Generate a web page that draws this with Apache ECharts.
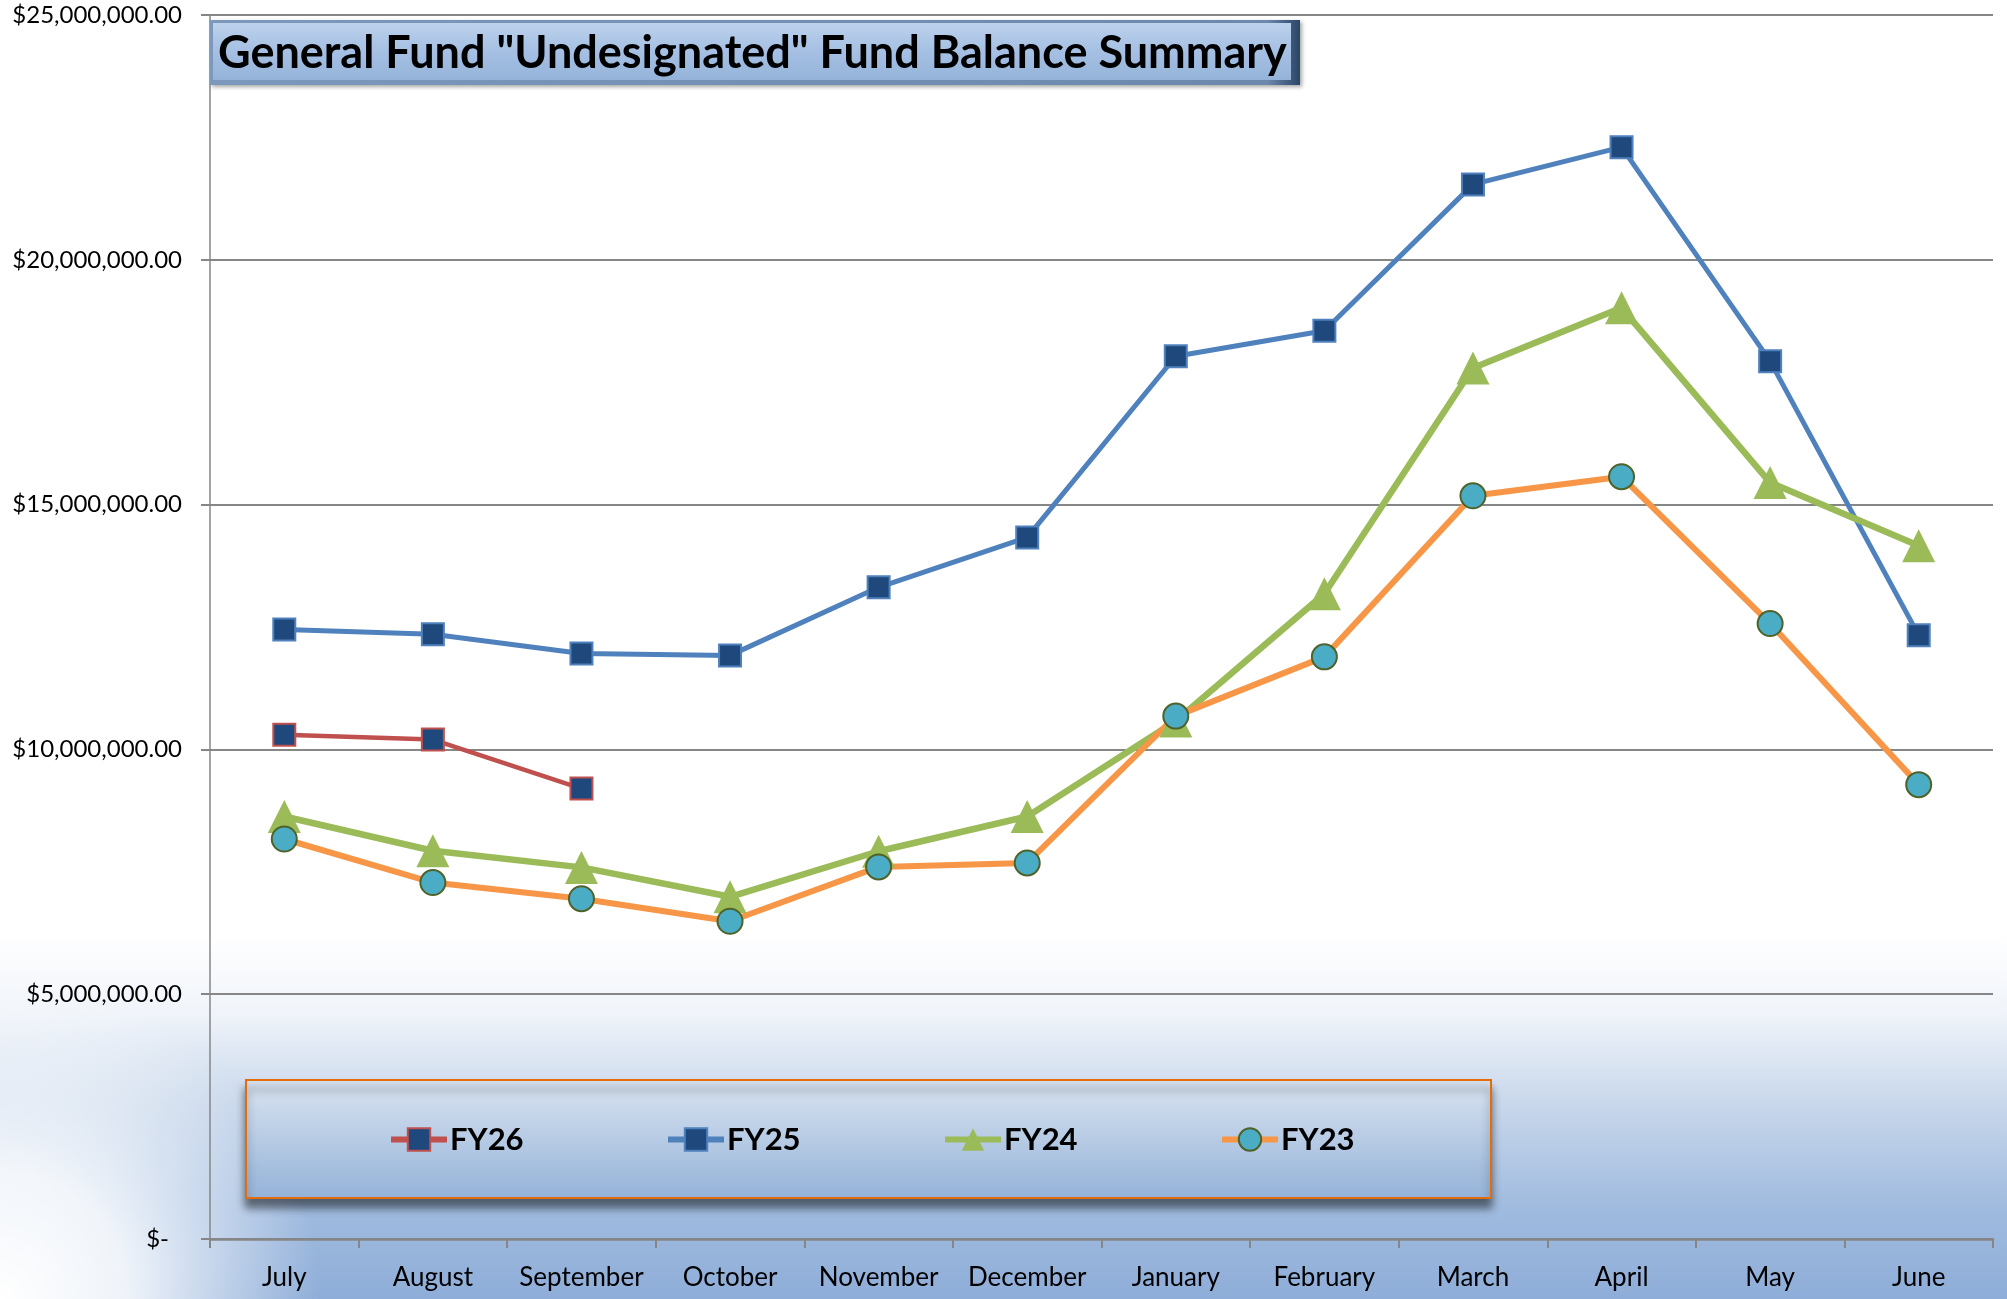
<!DOCTYPE html>
<html>
<head>
<meta charset="utf-8">
<title>General Fund "Undesignated" Fund Balance Summary</title>
<script src="https://cdn.jsdelivr.net/npm/echarts@6/dist/echarts.min.js"></script>
<style>
  html, body { margin: 0; padding: 0; background: #fff; }
  #chart { width: 2007px; height: 1299px; }
</style>
</head>
<body>
<div id="chart"></div>
<script>
// month-end undesignated balances
const months = ["July", "August", "September", "October", "November", "December",
  "January", "February", "March", "April", "May", "June"];
const fy26 = [10300000, 10200000, 9200000];
const fy25 = [12450000, 12350000, 11960000, 11920000, 13310000, 14330000,
  18030000, 18550000, 21540000, 22300000, 17930000, 12330000];
const fy24 = [8630000, 7930000, 7590000, 6990000, 7920000, 8630000,
  10580000, 13180000, 17790000, 19020000, 15450000, 14160000];
const fy23 = [8170000, 7280000, 6950000, 6490000, 7600000, 7680000,
  10680000, 11890000, 15180000, 15570000, 12570000, 9280000];
const seriesNames = ["FY26", "FY25", "FY24", "FY23"];
const titleText = 'General Fund "Undesignated" Fund Balance Summary';

const FONT = "Lato";

function money(v) {
  if (v === 0) return "{z|$-}";
  return "$" + v.toLocaleString("en-US", { minimumFractionDigits: 2, maximumFractionDigits: 2 });
}

let chart = echarts.init(document.getElementById("chart"));

let option = {
  animation: false,
  grid: { left: 210, right: 14, top: 15, bottom: 60, outerBoundsMode: "none" },
  xAxis: {
    type: "category",
    data: months,
    boundaryGap: true,
    axisLine: { lineStyle: { color: "#868686", width: 2.5 } },
    axisTick: { show: true, interval: 0, length: 9, lineStyle: { color: "#868686", width: 2 } },
    axisLabel: { interval: 0, color: "#000", fontFamily: FONT, fontSize: 26, margin: 26 }
  },
  yAxis: {
    type: "value",
    min: 0,
    max: 25000000,
    interval: 5000000,
    axisLine: { show: true, lineStyle: { color: "#868686", width: 1.5 } },
    axisTick: { show: true, length: 9, lineStyle: { color: "#868686", width: 2 } },
    splitLine: { lineStyle: { color: "#868686", width: 2 } },
    axisLabel: {
      color: "#000", fontFamily: FONT, fontSize: 24, margin: 28,
      formatter: money,
      rich: { z: { fontFamily: FONT, fontSize: 24, color: "#000", padding: [0, 13, 0, 0] } }
    }
  },
  legend: seriesNames.map((name, i) => ({
    data: [name],
    left: 388 + i * 277,
    top: 1124,
    itemWidth: 56,
    itemHeight: 28,
    padding: 0,
    z: 10,
    lineStyle: { width: 6 },
    textStyle: { fontFamily: FONT, fontWeight: "bold", fontSize: 31, color: "#000", padding: [0, 0, 0, -2] }
  })),
  series: [
    {
      name: "FY26", type: "line", data: fy26, symbol: "rect", symbolSize: 22,
      lineStyle: { color: "#c0504d", width: 4.5 },
      itemStyle: { color: "#1f497d", borderColor: "#c0504d", borderWidth: 2 },
      emphasis: { disabled: true }
    },
    {
      name: "FY25", type: "line", data: fy25, symbol: "rect", symbolSize: 22,
      lineStyle: { color: "#4f81bd", width: 5 },
      itemStyle: { color: "#1f497d", borderColor: "#4f81bd", borderWidth: 2 },
      emphasis: { disabled: true }
    },
    {
      name: "FY24", type: "line", data: fy24, symbol: "triangle", symbolSize: 33,
      lineStyle: { color: "#9bbb59", width: 6.5 },
      itemStyle: { color: "#9bbb59" },
      emphasis: { disabled: true }
    },
    {
      name: "FY23", type: "line", data: fy23, symbol: "circle", symbolSize: 25,
      lineStyle: { color: "#f79646", width: 6 },
      itemStyle: { color: "#4bacc6", borderColor: "#4f6228", borderWidth: 2 },
      emphasis: { disabled: true }
    }
  ],
  graphic: [
    // chart area fill: white fading into blue at the bottom
    {
      type: "rect", z: -100, silent: true,
      shape: { x: 0, y: 0, width: 2007, height: 1299 },
      style: {
        fill: {
          type: "linear", x: 0, y: 0, x2: 0, y2: 1,
          colorStops: [
            { offset: 0, color: "#ffffff" },
            { offset: 0.72, color: "#ffffff" },
            { offset: 0.78, color: "#f0f4fa" },
            { offset: 0.85, color: "#c8d7eb" },
            { offset: 0.93, color: "#a0bbdf" },
            { offset: 1, color: "#8eadd8" }
          ]
        }
      }
    },
    {
      type: "circle", z: -99, silent: true,
      shape: { cx: 0, cy: 1299, r: 320 },
      style: {
        fill: {
          type: "radial", x: 0.5, y: 0.5, r: 0.5,
          colorStops: [
            { offset: 0, color: "rgba(255,255,255,1)" },
            { offset: 0.4, color: "rgba(255,255,255,0.85)" },
            { offset: 1, color: "rgba(255,255,255,0)" }
          ]
        }
      }
    },
    // legend box
    {
      type: "rect", z: 3, silent: true,
      shape: { x: 246, y: 1080, width: 1245, height: 118 },
      style: {
        fill: {
          type: "linear", x: 0, y: 0, x2: 0, y2: 1,
          colorStops: [
            { offset: 0, color: "#dae4f1" },
            { offset: 1, color: "#94b2d8" }
          ]
        },
        stroke: "#e46c0a", lineWidth: 2,
        shadowBlur: 8, shadowOffsetY: 9, shadowColor: "rgba(0,0,0,0.5)"
      }
    },
    // title box with bevel
    {
      type: "rect", z: 100, silent: true,
      shape: { x: 210, y: 20, width: 1090, height: 65 },
      style: {
        fill: {
          type: "linear", x: 0, y: 0, x2: 1, y2: 0,
          colorStops: [
            { offset: 0, color: "#7d98bd" },
            { offset: 0.97, color: "#6d88ad" },
            { offset: 1, color: "#2a4566" }
          ]
        },
        shadowBlur: 4, shadowOffsetX: 2, shadowOffsetY: 2, shadowColor: "rgba(0,0,0,0.35)"
      }
    },
    {
      type: "rect", z: 101, silent: true,
      shape: { x: 213, y: 23, width: 1078, height: 57 },
      style: {
        fill: {
          type: "linear", x: 0, y: 0, x2: 0, y2: 1,
          colorStops: [
            { offset: 0, color: "#bcd1ec" },
            { offset: 0.5, color: "#a5c0e3" },
            { offset: 1, color: "#95b3d9" }
          ]
        }
      }
    },
    {
      type: "text", z: 102, silent: true,
      style: {
        text: titleText, x: 218, y: 53, verticalAlign: "middle",
        fontFamily: FONT, fontWeight: "bold", fontSize: 45, fill: "#000"
      }
    }
  ]
};

chart.setOption(option);
</script>
</body>
</html>
